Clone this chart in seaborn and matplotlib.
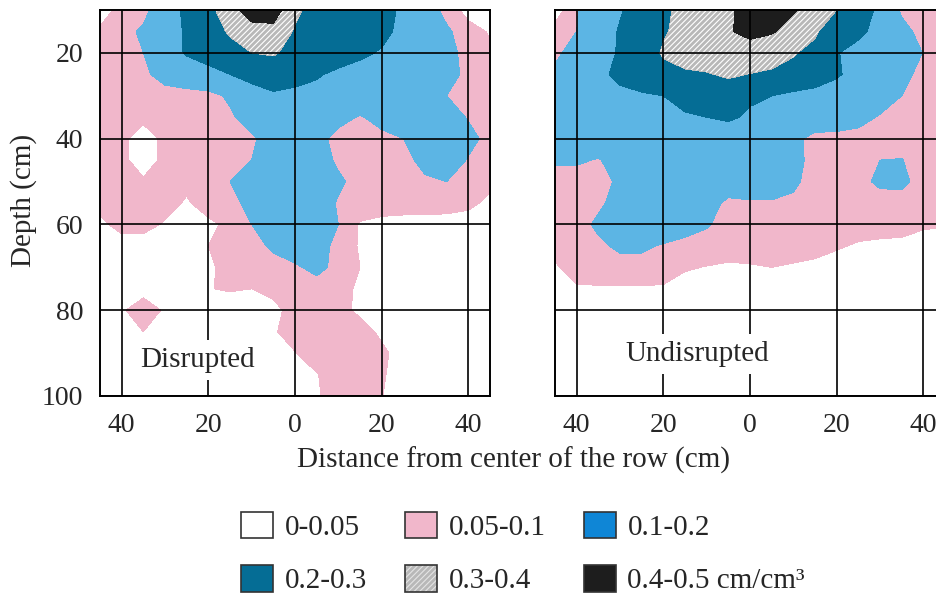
import numpy as np
import matplotlib
matplotlib.use("Agg")
import matplotlib.pyplot as plt
from matplotlib.patches import Patch
import seaborn as sns

# ---------------- data (root length density, cm/cm3) ----------------
x_cm = [-45, -40, -35, -30, -25, -20, -15, -10, -5, 0, 5, 10, 15, 20, 25, 30, 35, 40, 45]
depth_cm = [10, 15, 20, 25, 30, 35, 40, 45, 50, 55, 60, 65, 70, 75, 80, 85, 90, 95, 100]

rld_disrupted = [
    [.02, .07, .08, .15, .22, .27, .36, .45, .45, .32, .26, .25, .25, .24, .18, .14, .08, .03, .02],
    [.06, .08, .11, .16, .21, .26, .31, .36, .37, .29, .27, .26, .26, .23, .17, .15, .11, .07, .045],
    [.07, .08, .10, .15, .21, .24, .27, .30, .31, .27, .26, .25, .22, .19, .16, .15, .12, .08, .06],
    [.07, .08, .09, .12, .14, .17, .20, .23, .24, .23, .21, .18, .16, .15, .15, .15, .13, .08, .07],
    [.07, .08, .08, .08, .08, .08, .11, .16, .19, .18, .17, .16, .15, .15, .14, .13, .10, .08, .07],
    [.07, .07, .06, .08, .08, .08, .09, .13, .15, .15, .14, .12, .095, .12, .14, .15, .13, .095, .07],
    [.07, .06, .03, .06, .08, .08, .08, .09, .13, .15, .12, .08, .08, .085, .10, .14, .15, .12, .08],
    [.07, .06, .03, .06, .08, .08, .08, .10, .14, .15, .13, .09, .08, .08, .08, .12, .14, .095, .07],
    [.07, .07, .055, .07, .06, .08, .10, .13, .15, .15, .13, .11, .08, .08, .08, .09, .10, .08, .06],
    [.065, .07, .07, .065, .045, .07, .08, .12, .15, .15, .13, .095, .08, .075, .075, .075, .07, .06, .04],
    [.04, .065, .065, .045, .035, .04, .06, .10, .14, .15, .13, .10, .045, .035, .03, .03, .03, .03, .02],
    [.02, .03, .03, .03, .03, .05, .07, .08, .11, .14, .13, .08, .045, .02, .02, .02, .02, .02, .02],
    [.02, .02, .02, .02, .02, .045, .06, .07, .08, .09, .12, .08, .05, .02, .02, .02, .02, .02, .02],
    [.02, .03, .035, .02, .02, .048, .055, .05, .065, .075, .07, .07, .04, .02, .02, .02, .02, .02, .02],
    [.02, .045, .07, .045, .02, .02, .02, .02, .035, .07, .075, .065, .04, .02, .02, .02, .02, .02, .02],
    [.02, .03, .05, .03, .02, .02, .02, .02, .045, .07, .075, .075, .07, .04, .02, .02, .02, .02, .02],
    [.02, .02, .02, .02, .02, .02, .02, .02, .04, .048, .07, .075, .075, .06, .03, .02, .02, .02, .02],
    [.02, .02, .02, .02, .02, .02, .02, .02, .02, .03, .048, .07, .075, .055, .03, .02, .02, .02, .02],
    [.02, .02, .02, .02, .02, .02, .02, .02, .02, .03, .045, .07, .07, .052, .02, .02, .02, .02, .02],
]

rld_undisrupted = [
    [.02, .095, .15, .19, .25, .28, .33, .35, .38, .45, .46, .41, .36, .30, .25, .18, .09, .06, .04],
    [.07, .10, .14, .21, .25, .29, .33, .36, .39, .43, .41, .36, .31, .25, .22, .17, .12, .08, .06],
    [.09, .12, .16, .21, .25, .31, .33, .34, .35, .35, .33, .305, .28, .205, .17, .15, .14, .098, .07],
    [.11, .13, .18, .22, .25, .27, .29, .295, .31, .298, .29, .28, .25, .21, .17, .15, .12, .08, .07],
    [.12, .14, .17, .18, .19, .20, .23, .25, .26, .21, .20, .18, .17, .16, .15, .13, .10, .08, .07],
    [.12, .14, .16, .16, .17, .18, .19, .20, .21, .19, .18, .17, .16, .14, .12, .095, .08, .07, .065],
    [.12, .14, .15, .15, .16, .16, .16, .16, .16, .15, .15, .12, .075, .08, .08, .075, .075, .07, .065],
    [.11, .11, .095, .13, .15, .16, .16, .16, .16, .14, .14, .12, .08, .08, .08, .10, .102, .075, .07],
    [.07, .07, .08, .11, .15, .16, .16, .14, .13, .13, .13, .11, .08, .08, .085, .11, .115, .075, .07],
    [.07, .08, .09, .12, .15, .15, .14, .12, .09, .095, .095, .09, .08, .08, .08, .08, .075, .075, .07],
    [.07, .08, .11, .14, .15, .14, .13, .105, .08, .08, .08, .08, .075, .075, .07, .07, .065, .055, .052],
    [.06, .08, .09, .11, .11, .095, .08, .08, .075, .075, .07, .07, .065, .055, .045, .04, .04, .035, .035],
    [.045, .07, .075, .08, .08, .07, .055, .048, .042, .045, .05, .045, .04, .03, .02, .02, .02, .02, .02],
    [.02, .045, .045, .045, .045, .045, .03, .02, .02, .02, .02, .02, .02, .02, .02, .02, .02, .02, .02],
    [.02, .02, .02, .02, .02, .02, .02, .02, .02, .02, .02, .02, .02, .02, .02, .02, .02, .02, .02],
    [.02, .02, .02, .02, .02, .02, .02, .02, .02, .02, .02, .02, .02, .02, .02, .02, .02, .02, .02],
    [.02, .02, .02, .02, .02, .02, .02, .02, .02, .02, .02, .02, .02, .02, .02, .02, .02, .02, .02],
    [.02, .02, .02, .02, .02, .02, .02, .02, .02, .02, .02, .02, .02, .02, .02, .02, .02, .02, .02],
    [.02, .02, .02, .02, .02, .02, .02, .02, .02, .02, .02, .02, .02, .02, .02, .02, .02, .02, .02],
]

levels = [0, 0.05, 0.1, 0.2, 0.3, 0.4, 0.5]
class_labels = ["0-0.05", "0.05-0.1", "0.1-0.2", "0.2-0.3", "0.3-0.4", "0.4-0.5 cm/cm\u00b3"]
x_ticks = [-40, -20, 0, 20, 40]
x_ticklabels = ["40", "20", "0", "20", "40"]
y_ticks = [20, 40, 60, 80, 100]
panel_names = ["Disrupted", "Undisrupted"]

# ---------------- style ----------------
sns.set_style("white")
plt.rcParams["font.family"] = ["Liberation Serif", "DejaVu Serif"]
plt.rcParams["hatch.color"] = "#e4e4e4"
plt.rcParams["hatch.linewidth"] = 0.8

map_colors = ["#ffffff", "#f1b7cb", "#5cb5e4", "#056d95", "#b8b8b8", "#1d1d1d"]
legend_colors = ["#ffffff", "#f1b7cb", "#0f86d6", "#056d95", "#b8b8b8", "#1d1d1d"]
hatches = [None, None, None, None, "//////", None]

W, H = 937, 597
fig = plt.figure(figsize=(W / 100, H / 100), dpi=100)
ax1 = fig.add_axes([100 / W, 1 - 396 / H, 390 / W, 386 / H])
ax2 = fig.add_axes([555 / W, 1 - 396 / H, 390 / W, 386 / H])

label_pos = [(-35.8, 91.6), (-28.8, 90.2)]

for ax, grid, name, (tx, ty) in zip([ax1, ax2], [rld_disrupted, rld_undisrupted],
                                    panel_names, label_pos):
    ax.contourf(x_cm, depth_cm, np.array(grid), levels=levels,
                colors=map_colors, hatches=hatches)
    ax.set_xlim(-45, 45)
    ax.set_ylim(100, 10)
    ax.set_xticks(x_ticks, x_ticklabels)
    ax.set_yticks(y_ticks)
    ax.grid(True, color="black", lw=1.2)
    ax.set_axisbelow(False)
    ax.tick_params(length=0, labelsize=20, pad=12)
    for sp in ax.spines.values():
        sp.set_color("black")
        sp.set_linewidth(1.4)
        sp.set_visible(True)
    ax.text(tx, ty, name, ha="left", va="center", fontsize=21, zorder=6,
            bbox=dict(facecolor="white", edgecolor="none", boxstyle="square,pad=0.25"))

ax2.tick_params(labelleft=False)

fig.text(514 / W, 1 - 468 / H, "Distance from center of the row (cm)",
         ha="center", va="baseline", fontsize=21)
fig.text(24 / W, 1 - 200 / H, "Depth (cm)", rotation=90,
         ha="center", va="center", fontsize=21)

handles = []
for c, h, lab in zip(legend_colors, hatches, class_labels):
    if h:
        handles.append((Patch(facecolor=c, edgecolor="#e4e4e4", hatch=h, lw=0),
                        Patch(facecolor="none", edgecolor="#333333", lw=1.2)))
    else:
        handles.append(Patch(facecolor=c, edgecolor="#333333", lw=1.2))

# matplotlib fills legend columns first; reorder so rows read like the reference
order = [0, 3, 1, 4, 2, 5]
fig.legend(handles=[handles[i] for i in order], labels=[class_labels[i] for i in order],
           ncol=3, loc="center", bbox_to_anchor=(523 / W, 1 - 553 / H), frameon=False,
           fontsize=21, handlelength=1.1, handleheight=1.0,
           handletextpad=0.4, columnspacing=1.3, labelspacing=0.85, borderpad=0)

fig.savefig("out.png", dpi=100)
